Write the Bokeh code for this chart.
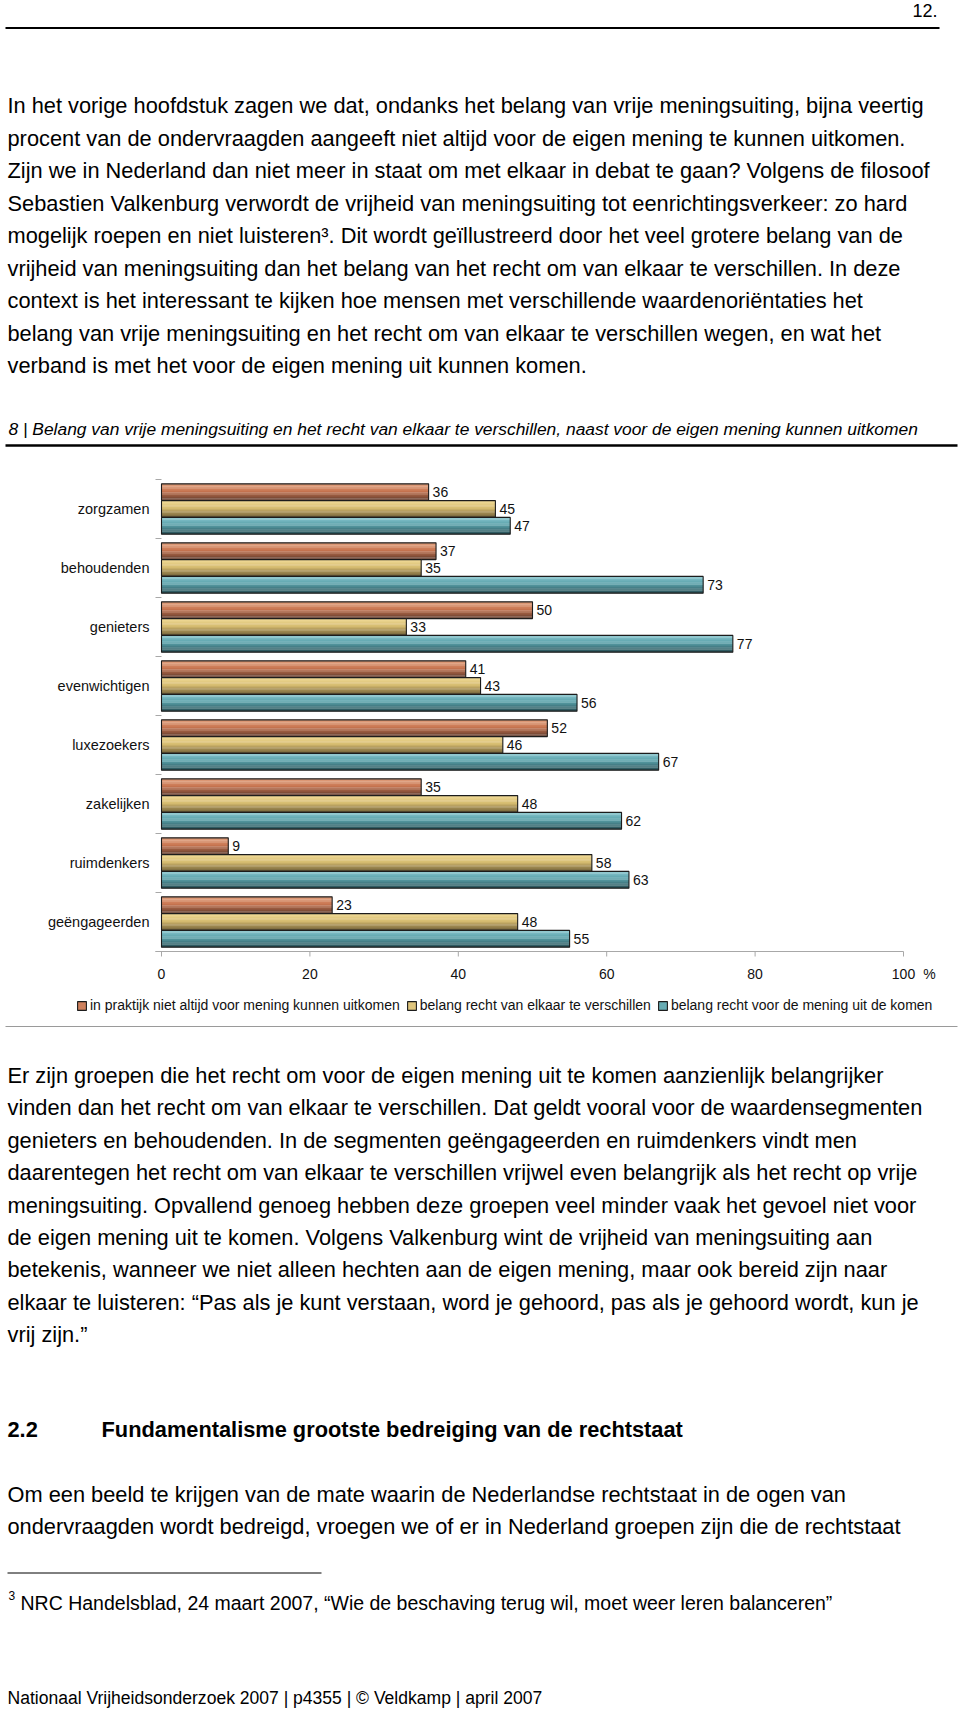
import numpy as np
from bokeh.plotting import figure
from bokeh.models import Range1d, Legend, LegendItem, ColumnDataSource
from bokeh.transform import dodge
from bokeh.layouts import column
from bokeh.embed import file_html
from bokeh.resources import INLINE
from bokeh.core.properties import value

# ---------------- data ----------------
categories = ["zorgzamen", "behoudenden", "genieters", "evenwichtigen",
              "luxezoekers", "zakelijken", "ruimdenkers", "geëngageerden"]
niet_altijd_uitkomen = [36, 37, 50, 41, 52, 35, 9, 23]
recht_van_elkaar_verschillen = [45, 35, 33, 43, 46, 48, 58, 48]
recht_voor_mening_uitkomen = [47, 73, 77, 56, 67, 62, 63, 55]
series_labels = ["in praktijk niet altijd voor mening kunnen uitkomen",
                 "belang recht van elkaar te verschillen",
                 "belang recht voor de mening uit de komen"]
x_ticks = [0, 20, 40, 60, 80, 100]
x_unit = "%"

page_number = "12."
para1 = [
    "In het vorige hoofdstuk zagen we dat, ondanks het belang van vrije meningsuiting, bijna veertig",
    "procent van de ondervraagden aangeeft niet altijd voor de eigen mening te kunnen uitkomen.",
    "Zijn we in Nederland dan niet meer in staat om met elkaar in debat te gaan? Volgens de filosoof",
    "Sebastien Valkenburg verwordt de vrijheid van meningsuiting tot eenrichtingsverkeer: zo hard",
    "mogelijk roepen en niet luisteren\u00b3. Dit wordt geïllustreerd door het veel grotere belang van de",
    "vrijheid van meningsuiting dan het belang van het recht om van elkaar te verschillen. In deze",
    "context is het interessant te kijken hoe mensen met verschillende waardenoriëntaties het",
    "belang van vrije meningsuiting en het recht om van elkaar te verschillen wegen, en wat het",
    "verband is met het voor de eigen mening uit kunnen komen.",
]
caption = "8 | Belang van vrije meningsuiting en het recht van elkaar te verschillen, naast voor de eigen mening kunnen uitkomen"
para2 = [
    "Er zijn groepen die het recht om voor de eigen mening uit te komen aanzienlijk belangrijker",
    "vinden dan het recht om van elkaar te verschillen. Dat geldt vooral voor de waardensegmenten",
    "genieters en behoudenden. In de segmenten geëngageerden en ruimdenkers vindt men",
    "daarentegen het recht om van elkaar te verschillen vrijwel even belangrijk als het recht op vrije",
    "meningsuiting. Opvallend genoeg hebben deze groepen veel minder vaak het gevoel niet voor",
    "de eigen mening uit te komen. Volgens Valkenburg wint de vrijheid van meningsuiting aan",
    "betekenis, wanneer we niet alleen hechten aan de eigen mening, maar ook bereid zijn naar",
    "elkaar te luisteren: \u201cPas als je kunt verstaan, word je gehoord, pas als je gehoord wordt, kun je",
    "vrij zijn.\u201d",
]
heading_num = "2.2"
heading_text = "Fundamentalisme grootste bedreiging van de rechtstaat"
para3 = [
    "Om een beeld te krijgen van de mate waarin de Nederlandse rechtstaat in de ogen van",
    "ondervraagden wordt bedreigd, vroegen we of er in Nederland groepen zijn die de rechtstaat",
]
footnote_mark = "3"
footnote = "NRC Handelsblad, 24 maart 2007, \u201cWie de beschaving terug wil, moet weer leren balanceren\u201d"
footer = "Nationaal Vrijheidsonderzoek 2007 | p4355 | \u00a9 Veldkamp | april 2007"

# ---------------- styles ----------------
FONT_NAME = "Liberation Sans"
FONT = value(FONT_NAME)
W = 960
BODY = "21.8px"


def page_fig(y0, y1):
    f = figure(width=W, height=int(y1 - y0), x_range=Range1d(0, W), y_range=Range1d(y1, y0),
               output_backend="svg", toolbar_location=None,
               x_axis_location=None, y_axis_location=None,
               min_border_left=0, min_border_right=0, min_border_top=0, min_border_bottom=0)
    f.grid.visible = False
    f.outline_line_color = None
    return f


def lines_at(f, lines, x, y_first, step, size, style="normal", color="#000000", align="left"):
    ys = [y_first + i * step for i in range(len(lines))]
    f.text(x=[x] * len(lines), y=ys, text=lines, text_baseline="middle", text_align=align,
           text_font=FONT, text_font_size=size, text_font_style=style, text_color=color)


# ---------------- top text block (page y 0..460) ----------------
top = page_fig(0, 460)
lines_at(top, [page_number], 937, 10, 0, "18px", align="right")
top.segment(x0=[5], y0=[27.5], x1=[939], y1=[27.5], line_color="#000000", line_width=2)
lines_at(top, para1, 7, 105, 32.5, BODY)
lines_at(top, [caption], 8, 428, 0, "17.4px", style="italic")
top.segment(x0=[5], y0=[445], x1=[957], y1=[445], line_color="#000000", line_width=2.5)

# ---------------- chart (page y 460..1020) ----------------
n_cat = len(categories)
CH_TOP, CH_H = 460, 560
PLOT_L, PLOT_R, PLOT_T, PLOT_B = 161, 903, 479, 951      # plot area in page pixels
PX_X = (PLOT_R - PLOT_L) / 100.0
PX_Y = (PLOT_B - PLOT_T) / n_cat
x_start = -PLOT_L / PX_X
x_end = (W - PLOT_L) / PX_X
y_start = -(CH_TOP + CH_H - PLOT_B) / PX_Y
y_end = n_cat + (PLOT_T - CH_TOP) / PX_Y

chart = figure(width=W, height=CH_H, x_range=Range1d(x_start, x_end),
               y_range=Range1d(y_start, y_end),
               output_backend="svg", toolbar_location=None,
               x_axis_location=None, y_axis_location=None,
               min_border_left=0, min_border_right=0, min_border_top=0, min_border_bottom=0)
chart.grid.visible = False
chart.outline_line_color = None

cat_pos = [n_cat - 0.5 - i for i in range(n_cat)]   # first category on top
src = ColumnDataSource(dict(
    cat=categories, pos=cat_pos, zero=[0] * n_cat,
    s0=niet_altijd_uitkomen, s1=recht_van_elkaar_verschillen, s2=recht_voor_mening_uitkomen,
    l0=[str(v) for v in niet_altijd_uitkomen],
    l1=[str(v) for v in recht_van_elkaar_verschillen],
    l2=[str(v) for v in recht_voor_mening_uitkomen],
))

gradients = [
    ("#e3a27f", "#c7744f", "#5e3a2c"),
    ("#f2dd9a", "#d7bc70", "#6f5f38"),
    ("#86c6ce", "#5aa1aa", "#284f56"),
]


def mix(c1, c2, t):
    a = np.array([int(c1[i:i + 2], 16) for i in (1, 3, 5)], dtype=float)
    b = np.array([int(c2[i:i + 2], 16) for i in (1, 3, 5)], dtype=float)
    c = a + (b - a) * t
    return "#%02x%02x%02x" % tuple(int(round(v)) for v in c)


def grad(s, t):
    top_c, mid_c, bot_c = gradients[s]
    if t < 0.45:
        return mix(top_c, mid_c, t / 0.45)
    return mix(mid_c, bot_c, (t - 0.45) / 0.55)


AX = "#a8a8a8"
# boundary ticks of the category axis
bounds = list(range(n_cat + 1))
chart.segment(x0=[0] * len(bounds), x1=[-6 / PX_X] * len(bounds), y0=bounds, y1=bounds,
              line_color=AX, line_width=1)
# x axis line, ticks, labels
chart.segment(x0=[-6 / PX_X], x1=[x_ticks[-1]], y0=[0], y1=[0], line_color=AX, line_width=1.2)
chart.segment(x0=x_ticks, x1=x_ticks, y0=[0] * len(x_ticks), y1=[-5 / PX_Y] * len(x_ticks),
              line_color=AX, line_width=1)
lab_y = -22.3 / PX_Y
chart.text(x=x_ticks, y=[lab_y] * len(x_ticks), text=[str(t) for t in x_ticks],
           text_align="center", text_baseline="middle", text_font=FONT, text_font_size="14px",
           text_color="#111111")
chart.text(x=[x_ticks[-1]], y=[lab_y], text=[x_unit], x_offset=26, text_align="center",
           text_baseline="middle", text_font=FONT, text_font_size="14px", text_color="#111111")
# category labels
chart.text(x="zero", y="pos", text="cat", x_offset=-12, text_align="right",
           text_baseline="middle", text_font=FONT, text_font_size="14.5px",
           text_color="#111111", source=src)

H = 0.284
offsets = [H, 0.0, -H]
N = 14
legend_items = []
for s in range(3):
    mid_r = None
    for k in range(N):
        t = (k + 0.5) / N
        off = offsets[s] + H / 2 - (k + 0.5) * H / N
        r = chart.hbar(y=dodge("pos", off), left=0, right=f"s{s}",
                       height=H / N * 1.15, fill_color=grad(s, t), line_color=None, source=src)
        if k == int(N * 0.35):
            mid_r = r
    outl = chart.hbar(y=dodge("pos", offsets[s]), left=0, right=f"s{s}",
                      height=H, fill_color=None, line_color="#1c1c1c", line_width=1.1, source=src)
    chart.text(x=f"s{s}", y=dodge("pos", offsets[s]), text=f"l{s}",
               x_offset=4, text_align="left", text_baseline="middle",
               text_font=FONT, text_font_size="14px", text_color="#111111", source=src)
    legend_items.append(LegendItem(label=series_labels[s], renderers=[mid_r, outl]))

legend = Legend(items=legend_items, orientation="horizontal", location=(76, 7),
                padding=0, margin=0, spacing=6, label_standoff=3,
                glyph_width=11, glyph_height=11, label_height=14,
                border_line_color=None, background_fill_alpha=0,
                label_text_font=FONT_NAME, label_text_font_size="14px", label_text_color="#111111")
chart.add_layout(legend, "center")

# ---------------- bottom text block (page y 1020..1710) ----------------
bot = page_fig(1020, 1710)
bot.segment(x0=[5], y0=[1026], x1=[957], y1=[1026], line_color="#9a9a9a", line_width=1)
lines_at(bot, para2, 7, 1075, 32.4, BODY)
lines_at(bot, [heading_num], 7, 1429, 0, "21.8px", style="bold")
lines_at(bot, [heading_text], 101, 1429, 0, "21.8px", style="bold")
lines_at(bot, para3, 7, 1493.5, 32.5, BODY)
bot.segment(x0=[7], y0=[1572.5], x1=[321], y1=[1572.5], line_color="#000000", line_width=1)
lines_at(bot, [footnote_mark], 8, 1595, 0, "12px")
lines_at(bot, [footnote], 20, 1602.5, 0, "19.5px")
lines_at(bot, [footer], 7, 1697, 0, "17.55px")

page = column(top, chart, bot, spacing=0)
open("out.html", "w").write(file_html(page, INLINE))
